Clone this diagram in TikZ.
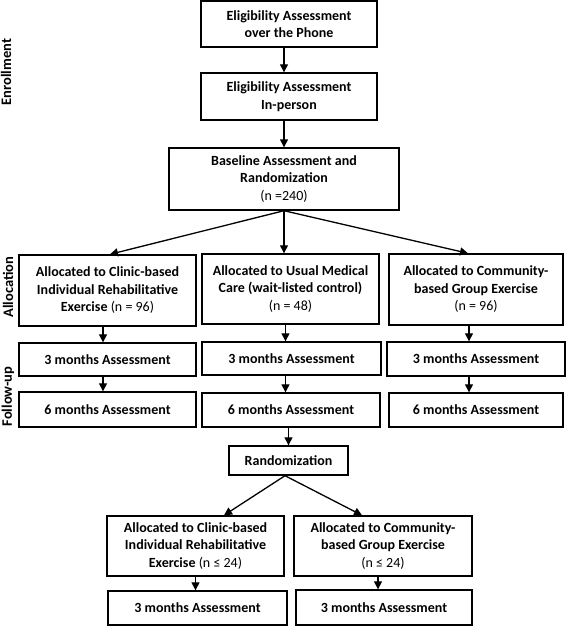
\documentclass[tikz,border=0pt]{standalone}
\usepackage{fontspec}
\setmainfont{Carlito}
\usetikzlibrary{arrows.meta}

\tikzset{every picture/.style={line width=1.4pt}}
\tikzset{
  box/.style={draw, line width=1.4pt, align=center, inner sep=1pt,
    font=\fontsize{14}{17.5}\selectfont\bfseries},
  arr/.style={line width=1.3pt, -{Triangle[length=8pt,width=8pt]}},
  phase/.style={rotate=90, font=\fontsize{14.5}{17}\selectfont\bfseries}
}
\newcommand{\nval}[1]{\textnormal{#1}}

\begin{document}
\begin{tikzpicture}[x=1pt,y=1pt,yscale=-1,xscale=1]
\useasboundingbox (0,0) rectangle (567,626);

%Shape: Rectangle [enrollment]
\node[box, minimum width=176, minimum height=46] (phone) at (289,24) {Eligibility Assessment\\over the Phone};
\node[box, minimum width=176, minimum height=47] (person) at (289,96.5) {Eligibility Assessment\\In-person};
\node[box, minimum width=230, minimum height=62] (base) at (284,179) {Baseline Assessment and\\Randomization\\\nval{(n =240)}};

%Shape: Rectangle [allocation]
\node[box, minimum width=177, minimum height=71] (clinic) at (107.5,290.5) {Allocated to Clinic-based\\Individual Rehabilitative\\Exercise \nval{(n = 96)}};
\node[box, minimum width=177, minimum height=70] (usual) at (290.5,289) {Allocated to Usual Medical\\Care (wait-listed control)\\\nval{(n = 48)}};
\node[box, minimum width=174, minimum height=71] (group) at (476,289.5) {Allocated to Community-\\based Group Exercise\\\nval{(n = 96)}};

%Shape: Rectangle [follow-up]
\node[box, minimum width=177, minimum height=33] (clinicA) at (107.5,359.5) {3 months Assessment};
\node[box, minimum width=179, minimum height=33] (usualA) at (291.5,358.5) {3 months Assessment};
\node[box, minimum width=178, minimum height=34] (groupA) at (476,359) {3 months Assessment};
\node[box, minimum width=177, minimum height=35] (clinicB) at (107.5,409.5) {6 months Assessment};
\node[box, minimum width=178, minimum height=34] (usualB) at (291,410) {6 months Assessment};
\node[box, minimum width=174, minimum height=34] (groupB) at (476,410) {6 months Assessment};

%Shape: Rectangle [second randomization]
\node[box, minimum width=119, minimum height=29] (rand) at (288.5,460.5) {Randomization};
\node[box, minimum width=177, minimum height=60] (clinic2) at (195.5,546) {Allocated to Clinic-based\\Individual Rehabilitative\\Exercise \nval{(n ≤ 24)}};
\node[box, minimum width=178, minimum height=60] (group2) at (383,546) {Allocated to Community-\\based Group Exercise\\\nval{(n ≤ 24)}};
\node[box, minimum width=179, minimum height=34] (clinic2A) at (197.5,608) {3 months Assessment};
\node[box, minimum width=176, minimum height=35] (group2A) at (384,607.5) {3 months Assessment};

% Text Node
\node[phase] (enr) at (6,72) {Enrollment};
\node[phase] (alc) at (8,287) {Allocation};
\node[phase] (fol) at (8,396.5) {Follow-up};

%columns of the arrows
\coordinate (colL) at (103,0);
\coordinate (colM) at (285.5,0);
\coordinate (colR) at (469,0);

\draw[arr] (phone.south -| base.south) -- (person.north -| base.south);
\draw[arr] (person.south -| base.south) -- (base.north);
\draw[arr] (base.south) -- (usual.north -| base.south);
\draw[arr] (base.south) -- ([xshift=2.5]clinic.north);
\draw[arr] (base.south) -- ([xshift=-8]group.north);

\draw[arr] (clinic.south -| colL) -- (clinicA.north -| colL);
\draw[arr] (clinicA.south -| colL) -- (clinicB.north -| colL);
\draw[arr] (usual.south -| colM) -- (usualA.north -| colM);
\draw[arr] (usualA.south -| colM) -- (usualB.north -| colM);
\draw[arr] (group.south -| colR) -- (groupA.north -| colR);
\draw[arr] (groupA.south -| colR) -- (groupB.north -| colR);

\draw[arr] (usualB.south -| rand.north) -- (rand.north);
\draw[arr] ([xshift=-3.5]rand.south) -- ([xshift=28.5]clinic2.north);
\draw[arr] ([xshift=-3.5]rand.south) -- ([xshift=-21]group2.north);
\draw[arr] (clinic2.south) -- (clinic2A.north -| clinic2.south);
\draw[arr] ([xshift=-5]group2.south) -- ([xshift=-5]group2.south |- group2A.north);

\end{tikzpicture}
\end{document}
